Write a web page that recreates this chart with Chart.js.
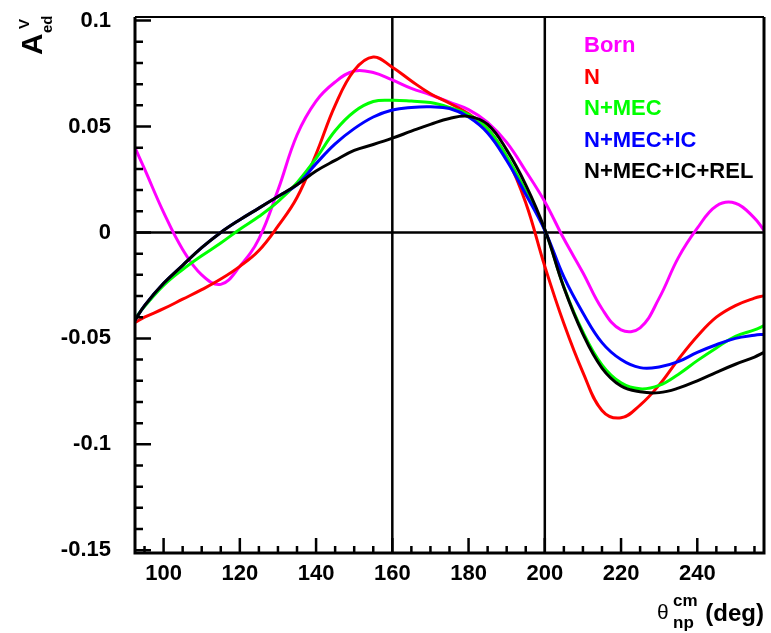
<!DOCTYPE html>
<html>
<head>
<meta charset="utf-8">
<script src="https://cdn.jsdelivr.net/npm/chart.js@4.4.1/dist/chart.umd.min.js"></script>
<style>
  html, body { margin: 0; padding: 0; background: #fff; }
  #wrap { width: 771px; height: 633px; }
</style>
</head>
<body>
<div id="wrap"><canvas id="chart" width="771" height="633"></canvas></div>
<script>
/* Vector asymmetry A_ed^V vs np c.m. angle, five model curves */

const ANGLES = [92.5, 95, 100, 105, 110, 115, 120, 125, 130, 135, 140, 145, 150, 155, 160, 165, 170,
  175, 180, 185, 190, 195, 200, 205, 210, 215, 220, 225, 230, 235, 240, 245, 250, 255, 257.5];

const BORN = [0.040, 0.030, 0.0095, -0.008, -0.020, -0.0245, -0.016, -0.003, 0.020, 0.046, 0.062, 0.071,
  0.0762, 0.0755, 0.072, 0.068, 0.065, 0.0615, 0.058, 0.052, 0.0425, 0.029, 0.0145, -0.003, -0.019,
  -0.036, -0.046, -0.045, -0.031, -0.012, 0.002, 0.0125, 0.0138, 0.0068, 0.001];
const N = [-0.0425, -0.040, -0.036, -0.0315, -0.027, -0.022, -0.016, -0.0085, 0.003, 0.0165, 0.037, 0.060,
  0.0765, 0.0828, 0.078, 0.0715, 0.0655, 0.061, 0.056, 0.049, 0.0355, 0.014, -0.016, -0.043, -0.066,
  -0.084, -0.0875, -0.0815, -0.072, -0.060, -0.049, -0.040, -0.0345, -0.031, -0.0298];
const N_MEC = [-0.0405, -0.035, -0.025, -0.0175, -0.011, -0.005, 0.0015, 0.0075, 0.0145, 0.0235, 0.035, 0.048,
  0.057, 0.0618, 0.0624, 0.062, 0.0613, 0.059, 0.0557, 0.049, 0.036, 0.0195, 0.0013, -0.0257, -0.047,
  -0.0625, -0.071, -0.0738, -0.0722, -0.067, -0.0605, -0.0545, -0.049, -0.046, -0.044];
const N_MEC_IC = [-0.0415, -0.0345, -0.024, -0.0155, -0.0072, 0.0, 0.006, 0.0115, 0.017, 0.0225, 0.0325, 0.0418,
  0.049, 0.0545, 0.0578, 0.059, 0.0593, 0.0585, 0.0545, 0.047, 0.034, 0.018, 0.001, -0.021, -0.038,
  -0.052, -0.060, -0.0638, -0.0635, -0.061, -0.0566, -0.053, -0.050, -0.0485, -0.048];
const N_MEC_IC_REL = [-0.0415, -0.0345, -0.024, -0.0155, -0.0072, 0.0, 0.006, 0.0115, 0.017, 0.0225, 0.029, 0.034,
  0.0387, 0.0415, 0.0445, 0.0478, 0.051, 0.0538, 0.0548, 0.051, 0.039, 0.0225, 0.0015, -0.026, -0.048,
  -0.064, -0.0725, -0.0752, -0.0756, -0.0735, -0.070, -0.066, -0.0622, -0.0588, -0.0566];

const SERIES = [
  { label: 'Born',          color: '#ff00ff', values: BORN },
  { label: 'N',             color: '#ff0000', values: N },
  { label: 'N+MEC',         color: '#00ff00', values: N_MEC },
  { label: 'N+MEC+IC',      color: '#0000ff', values: N_MEC_IC },
  { label: 'N+MEC+IC+REL',  color: '#000000', values: N_MEC_IC_REL },
];

const X_TICKS = [100, 120, 140, 160, 180, 200, 220, 240];
const X_TICK_LABELS = ['100', '120', '140', '160', '180', '200', '220', '240'];
const Y_TICKS = [0.1, 0.05, 0, -0.05, -0.1, -0.15];
const Y_TICK_LABELS = ['0.1', '0.05', '0', '-0.05', '-0.1', '-0.15'];
const X_RANGE = [92.5, 257.5];
const Y_RANGE = [-0.1513, 0.1017];
const REF_X = [160, 200];
const REF_Y = [0];

const FONT = "'Liberation Sans', Arial, Helvetica, sans-serif";

// frame, inward ticks, reference lines, legend text and axis titles (ROOT-style)
const rootStyle = {
  id: 'rootStyle',
  beforeDatasetsDraw(chart) {
    const { ctx, chartArea: a, scales: { x, y } } = chart;
    ctx.save();
    ctx.strokeStyle = '#000';
    ctx.lineWidth = 2.5;
    ctx.beginPath();
    REF_X.forEach((v) => { const px = x.getPixelForValue(v); ctx.moveTo(px, a.top); ctx.lineTo(px, a.bottom); });
    REF_Y.forEach((v) => { const py = y.getPixelForValue(v); ctx.moveTo(a.left, py); ctx.lineTo(a.right, py); });
    ctx.stroke();
    ctx.restore();
  },
  afterDraw(chart) {
    const { ctx, chartArea: a, scales: { x, y } } = chart;
    ctx.save();
    ctx.strokeStyle = '#000';

    // ticks
    ctx.lineWidth = 2.5;
    ctx.beginPath();
    for (let v = 95; v < X_RANGE[1]; v += 5) {
      const px = x.getPixelForValue(v);
      const len = X_TICKS.includes(v) ? 15 : 7;
      ctx.moveTo(px, a.bottom); ctx.lineTo(px, a.bottom - len);
    }
    for (let k = -15; k <= 10; k++) {
      const py = y.getPixelForValue(k / 100);
      const len = k % 5 === 0 ? 16 : 8;
      ctx.moveTo(a.left, py); ctx.lineTo(a.left + len, py);
    }
    ctx.stroke();

    // frame
    ctx.lineWidth = 3;
    ctx.beginPath();
    ctx.moveTo(a.left, a.top); ctx.lineTo(a.left, a.bottom); ctx.lineTo(a.right, a.bottom); ctx.lineTo(a.right, a.top);
    ctx.stroke();
    ctx.lineWidth = 2;
    ctx.beginPath();
    ctx.moveTo(a.left, a.top); ctx.lineTo(a.right, a.top);
    ctx.stroke();

    // legend as coloured labels
    ctx.font = `bold 22px ${FONT}`;
    ctx.textAlign = 'left';
    ctx.textBaseline = 'alphabetic';
    chart.data.datasets.forEach((ds, i) => {
      ctx.fillStyle = ds.borderColor;
      ctx.fillText(ds.label, 584, 52 + i * 31.6);
    });

    // y title: A_ed^V, rotated
    ctx.fillStyle = '#000';
    ctx.translate(42, 55);
    ctx.rotate(-Math.PI / 2);
    ctx.font = `bold 30px ${FONT}`;
    ctx.fillText('A', 0, 0);
    ctx.font = `bold 15px ${FONT}`;
    ctx.fillText('ed', 22, 10);
    ctx.fillText('V', 26, -13);
    ctx.setTransform(1, 0, 0, 1, 0, 0);

    // x title: theta_np^cm(deg)
    ctx.font = `21px ${FONT}`;
    ctx.fillText('\u03b8', 657, 619);
    ctx.font = `bold 17px ${FONT}`;
    ctx.fillText('cm', 673, 606);
    ctx.fillText('np', 673, 628);
    ctx.font = `bold 24px ${FONT}`;
    ctx.textAlign = 'right';
    ctx.fillText('(deg)', 764, 621);
    ctx.restore();
  }
};

const datasets = SERIES.map((s, i) => ({
  label: s.label,
  data: ANGLES.map((a, j) => ({ x: a, y: s.values[j] })),
  borderColor: s.color,
  backgroundColor: s.color,
  borderWidth: 3,
  pointRadius: 0,
  tension: 0.4,
  fill: false,
  order: SERIES.length - i,
}));

const tickFont = { family: FONT, size: 22, weight: 'bold' };

new Chart(document.getElementById('chart'), {
  type: 'line',
  data: { datasets },
  options: {
    responsive: false,
    animation: false,
    layout: { padding: { top: 17, right: 7, left: 0, bottom: 0 } },
    plugins: { legend: { display: false }, tooltip: { enabled: false } },
    scales: {
      x: {
        type: 'linear',
        min: X_RANGE[0], max: X_RANGE[1],
        grid: { display: false, drawTicks: false },
        border: { display: false },
        ticks: {
          font: tickFont, color: '#000', padding: 8, maxRotation: 0, autoSkip: false,
          callback: (v, i) => X_TICK_LABELS[i],
        },
        afterBuildTicks: (s) => { s.ticks = X_TICKS.map((v) => ({ value: v })); },
        afterFit: (s) => { s.height = 80; s.paddingLeft = 0; s.paddingRight = 0; },
      },
      y: {
        type: 'linear',
        min: Y_RANGE[0], max: Y_RANGE[1],
        grid: { display: false, drawTicks: false },
        border: { display: false },
        ticks: {
          font: tickFont, color: '#000', padding: 24, autoSkip: false,
          callback: (v, i) => Y_TICK_LABELS[i],
        },
        afterBuildTicks: (s) => { s.ticks = Y_TICKS.map((v) => ({ value: v })); },
        afterFit: (s) => { s.width = 135; s.paddingTop = 0; s.paddingBottom = 0; },
      },
    },
  },
  plugins: [rootStyle],
});
</script>
</body>
</html>
